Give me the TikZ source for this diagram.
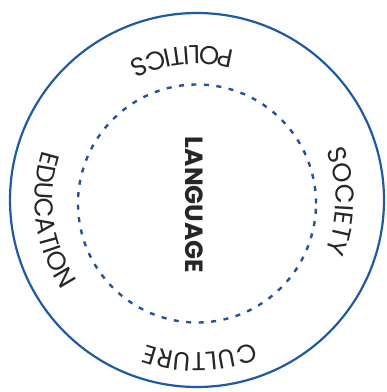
\documentclass[tikz,border=0pt]{standalone}
\usepackage{fontspec}
\usepackage{tikz}
\usetikzlibrary{decorations.text}
\newfontfamily\ringfont{Poppins}

\tikzset{
	ringword/.style={decorate,decoration={text along path,text align=center,text color=ringInk,
		text={|\ringfont\fontsize{26}{26}\selectfont|#1}}}
}

\begin{document}
\begin{tikzpicture}[x=1bp,y=1bp]
\definecolor{ringBlue}{HTML}{1D5AA2}
\definecolor{ringDash}{HTML}{26509B}
\definecolor{ringInk}{HTML}{262626}
\def\outerr{187bp}
\def\innerr{119bp}

\useasboundingbox (-197,-192) rectangle (190,200);

% outer ring and dashed core
\draw[ringBlue,line width=2.2pt] (0,0) circle[radius=\outerr];
\draw[ringDash,line width=2.4pt,dash pattern=on 5bp off 7.5bp] (0,-3.5) circle[radius=\innerr];

% words on the ring, inward ones run ccw, outward ones cw
\path[ringword=POLITICS] (46:154bp) arc[start angle=46,end angle=146,radius=154bp];
\path[ringword=EDUCATION] (138:162bp) arc[start angle=138,end angle=238,radius=162bp];
\path[ringword=SOCIETY] (49.5:139bp) arc[start angle=49.5,end angle=-50.5,radius=139bp];
\path[ringword=CULTURE] (-39:153bp) arc[start angle=-39,end angle=-139,radius=153bp];

\node[rotate=-90,text=ringInk,font=\ringfont\bfseries\fontsize{25}{25}\selectfont] (core) at (-3,-5) {LANGUAGE};
\end{tikzpicture}
\end{document}
